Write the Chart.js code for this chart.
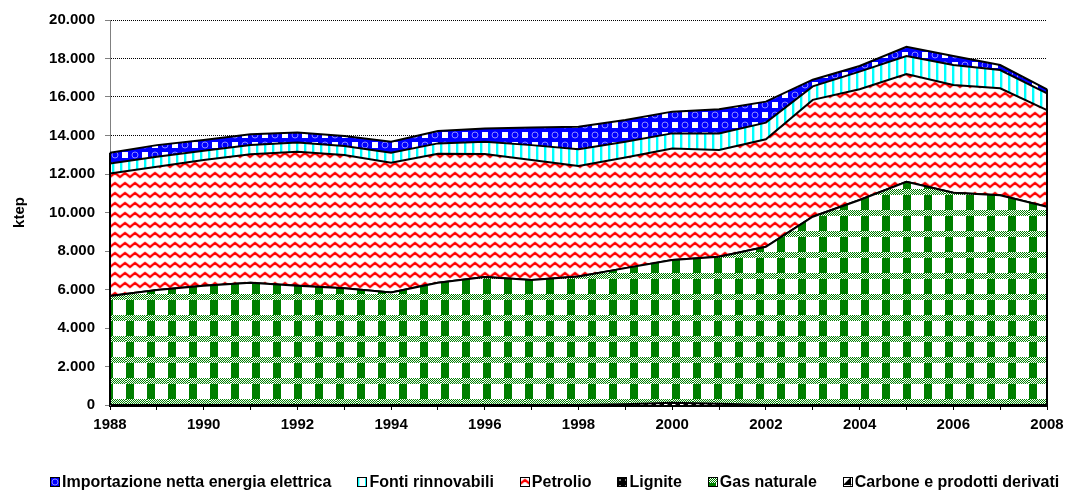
<!DOCTYPE html>
<html>
<head>
<meta charset="utf-8">
<script src="https://cdn.jsdelivr.net/npm/chart.js@4/dist/chart.umd.min.js"></script>
<style>
html, body { margin: 0; padding: 0; background: #fff; overflow: hidden; }
#wrap { position: relative; width: 1065px; height: 490px; }
#legend {
  position: absolute; left: 50px; top: 474px;
  display: flex; gap: 26px; white-space: nowrap;
  font: bold 16px Arial, "Liberation Sans", sans-serif; line-height: 16px; color: #000;
}
#legend .item { display: flex; align-items: center; }
#legend canvas { margin-right: 2px; }
</style>
</head>
<body>
<div id="wrap">
  <canvas id="chart" width="1065" height="490"></canvas>
  <div id="legend"></div>
</div>
<script>
// dati (ktep), dal basso verso l'alto
const years = ['1988', '1989', '1990', '1991', '1992', '1993', '1994', '1995', '1996', '1997', '1998',
               '1999', '2000', '2001', '2002', '2003', '2004', '2005', '2006', '2007', '2008'];
const carbone     = [0, 0, 0, 0, 0, 0, 0, 0, 0, 0, 0, 40, 120, 60, 0, 0, 0, 0, 0, 0, 0];
const gasNaturale = [5660, 5970, 6200, 6350, 6200, 6060, 5840, 6350, 6650, 6490, 6670, 7070, 7410, 7640, 8220, 9780, 10650, 11600, 11030, 10900, 10300];
const lignite     = [0, 0, 0, 0, 0, 0, 0, 0, 0, 0, 0, 0, 0, 0, 0, 0, 0, 0, 0, 0, 0];
const petrolio    = [6370, 6410, 6530, 6670, 6960, 6930, 6750, 6700, 6390, 6240, 5750, 5750, 5800, 5550, 5580, 6070, 5750, 5590, 5590, 5550, 5020];
const rinnovabili = [520, 520, 480, 490, 470, 460, 520, 540, 640, 770, 860, 820, 780, 860, 870, 700, 920, 940, 1040, 950, 870];
const importazione = [550, 600, 560, 550, 520, 520, 570, 640, 690, 920, 1180, 1120, 1130, 1250, 1090, 350, 290, 480, 470, 260, 210];

// pattern stile Excel
function tile(w, h, draw) {
  const c = document.createElement('canvas');
  c.width = w; c.height = h;
  const g = c.getContext('2d');
  g.fillStyle = '#fff';
  g.fillRect(0, 0, w, h);
  draw(g);
  return g.createPattern(c, 'repeat');
}

const patImport = tile(20, 20, g => {
  g.fillStyle = '#0000ff'; g.fillRect(0, 0, 20, 20);
  g.fillStyle = '#fff'; g.fillRect(12, 2, 6, 6); g.fillRect(2, 12, 6, 6);
  g.strokeStyle = '#8c8cff'; g.lineWidth = 1;
  [[5, 5], [15, 15]].forEach(([x, y]) => { g.beginPath(); g.arc(x, y, 3, 0, Math.PI * 2); g.stroke(); });
});
const patFonti = tile(8, 8, g => {
  g.fillStyle = '#00ffff'; g.fillRect(0, 0, 2, 8);
  g.fillStyle = '#a0ffff'; g.fillRect(2, 0, 1, 8);
});
const patPetrolio = tile(10, 10, g => {
  const wave = () => { g.beginPath(); g.moveTo(-5, 3); g.lineTo(0, 7); g.lineTo(5, 3); g.lineTo(10, 7); g.lineTo(15, 3); g.stroke(); };
  g.lineJoin = 'round';
  g.strokeStyle = '#ffb4b4'; g.lineWidth = 3.5; wave();
  g.strokeStyle = '#ff0000'; g.lineWidth = 1.8; wave();
});
const patLignite = tile(6, 6, g => {
  g.fillStyle = '#000'; g.fillRect(0, 0, 6, 6);
  g.fillStyle = '#808080'; g.fillRect(2, 2, 2, 2);
});
const patGas = tile(21, 21, g => {
  g.fillStyle = '#008000'; g.fillRect(0, 0, 8, 21);
  g.fillStyle = '#fff'; g.fillRect(0, 0, 21, 6);
  g.fillStyle = '#008000';
  for (let y = 0; y < 6; y++) for (let x = 0; x < 21; x++) if ((x + y) % 2 === 0) g.fillRect(x, y, 1, 1);
});
const patCarbone = tile(8, 8, g => {
  g.fillStyle = '#000';
  g.beginPath(); g.moveTo(8, 0); g.lineTo(8, 8); g.lineTo(0, 8); g.closePath(); g.fill();
});

const series = [
  { label: 'Carbone e prodotti derivati', data: carbone, pattern: patCarbone },
  { label: 'Gas naturale', data: gasNaturale, pattern: patGas },
  { label: 'Lignite', data: lignite, pattern: patLignite },
  { label: 'Petrolio', data: petrolio, pattern: patPetrolio },
  { label: 'Fonti rinnovabili', data: rinnovabili, pattern: patFonti },
  { label: 'Importazione netta energia elettrica', data: importazione, pattern: patImport }
];

const fmt = v => String(v).replace(/\B(?=(\d{3})+(?!\d))/g, '.');

Chart.defaults.font.family = 'Arial, "Liberation Sans", sans-serif';
Chart.defaults.font.size = 15;
Chart.defaults.font.weight = 'bold';
Chart.defaults.color = '#000';

// bordi verticali delle aree (come Excel)
const areaEdges = {
  id: 'areaEdges',
  afterDatasetsDraw(chart) {
    const metas = chart.getSortedVisibleDatasetMetas();
    const pts = metas[metas.length - 1].data;
    const y0 = chart.scales.y.getPixelForValue(0);
    const ctx = chart.ctx;
    ctx.save();
    ctx.strokeStyle = '#000';
    ctx.lineWidth = 2;
    [pts[0], pts[pts.length - 1]].forEach(p => {
      ctx.beginPath(); ctx.moveTo(p.x, p.y); ctx.lineTo(p.x, y0); ctx.stroke();
    });
    ctx.restore();
  }
};

new Chart(document.getElementById('chart'), {
  type: 'line',
  data: {
    labels: years,
    datasets: series.map((s, i) => ({
      label: s.label,
      data: s.data,
      backgroundColor: s.pattern,
      borderColor: '#000',
      borderWidth: 2,
      fill: i === 0 ? 'origin' : '-1',
      pointRadius: 0,
      tension: 0
    }))
  },
  options: {
    responsive: false,
    animation: false,
    layout: { padding: { top: 20, right: 18, bottom: 0, left: 0 } },
    plugins: { legend: { display: false }, tooltip: { enabled: false } },
    scales: {
      x: {
        offset: false,
        z: 1,
        grid: { drawOnChartArea: false, tickLength: 5, tickColor: '#000', offset: false },
        border: { color: '#000', width: 3 },
        ticks: {
          autoSkip: false, maxRotation: 0, padding: 6,
          callback(v, i) { return i % 2 ? '' : this.getLabelForValue(v); }
        },
        afterFit(s) { s.height = 85; s.paddingLeft = 0; s.paddingRight = 0; }
      },
      y: {
        stacked: true,
        min: 0, max: 20000,
        ticks: { stepSize: 2000, padding: 10, callback: v => fmt(v) },
        grid: { color: '#000', tickColor: '#808080', tickLength: 5, tickBorderDash: [] },
        border: { color: '#808080', width: 1, dash: [1, 1] },
        title: { display: true, text: 'ktep', padding: { top: 11, bottom: 0 } },
        afterFit(s) { s.width = 110; }
      }
    }
  },
  plugins: [areaEdges]
});

// legenda HTML (ordine inverso, come in Excel)
const legend = document.getElementById('legend');
series.slice().reverse().forEach(s => {
  const item = document.createElement('div');
  item.className = 'item';
  const box = document.createElement('canvas');
  box.width = 10; box.height = 10;
  const g = box.getContext('2d');
  g.fillStyle = s.pattern; g.fillRect(0, 0, 10, 10);
  g.strokeStyle = '#000'; g.lineWidth = 1; g.strokeRect(0.5, 0.5, 9, 9);
  const txt = document.createElement('span');
  txt.textContent = s.label;
  item.appendChild(box);
  item.appendChild(txt);
  legend.appendChild(item);
});
</script>
</body>
</html>
